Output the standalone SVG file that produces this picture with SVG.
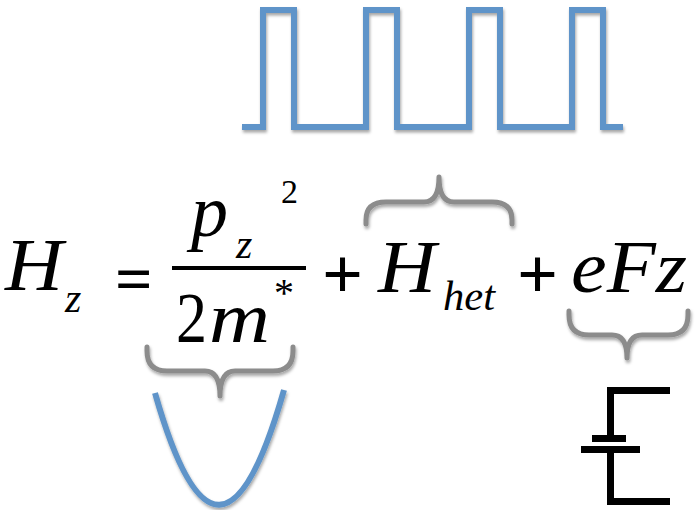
<svg xmlns="http://www.w3.org/2000/svg" width="697" height="510" viewBox="0 0 697 510">
  <defs>
    <filter id="sh" x="-10%" y="-10%" width="120%" height="130%">
      <feDropShadow dx="1" dy="2.5" stdDeviation="1.5" flood-color="#000" flood-opacity="0.35"/>
    </filter>
  </defs>
  <style>
    text { font-family: "Liberation Serif", "Times New Roman", Times, serif; fill: #000; }
    .eq { font-style: italic; }
    .up { font-style: normal; }
    .op { font-weight: bold; }
    .blue { fill: none; stroke: #5f94c9; stroke-width: 6; }
    .brace { fill: none; stroke: #8c8c8c; stroke-width: 5; stroke-linecap: round; stroke-linejoin: round; }
    .pot { fill: #000; }
  </style>

  <g id="square-wave" filter="url(#sh)">
    <path class="blue" d="M 242,127 H 263 V 10 H 294 V 127 H 366 V 10 H 397 V 127 H 469 V 10 H 500 V 127 H 572 V 10 H 603 V 127 H 623"/>
  </g>

  <g id="equation">
    <text class="eq" x="5" y="290" font-size="74" textLength="58" lengthAdjust="spacingAndGlyphs">H</text>
    <text class="eq" x="65" y="312" font-size="42">z</text>
    <text class="op" x="115" y="301" font-size="66">=</text>
    <text class="eq" x="191" y="236" font-size="74">p</text>
    <text class="eq" x="236" y="258" font-size="42">z</text>
    <text class="up" x="281" y="203" font-size="34">2</text>
    <rect x="172" y="266" width="134" height="4" fill="#000"/>
    <text class="up" x="176" y="342" font-size="72" textLength="31" lengthAdjust="spacingAndGlyphs">2</text>
    <text class="eq" x="209" y="342" font-size="72" textLength="61" lengthAdjust="spacingAndGlyphs">m</text>
    <text class="up" x="274" y="306" font-size="40">*</text>
    <text class="op" x="322" y="298" font-size="72">+</text>
    <text class="eq" x="378" y="292" font-size="74" textLength="58" lengthAdjust="spacingAndGlyphs">H</text>
    <text class="eq" x="443" y="310" font-size="42" textLength="52" lengthAdjust="spacingAndGlyphs">het</text>
    <text class="op" x="517" y="298" font-size="72">+</text>
    <text class="eq" x="571" y="292" font-size="74" textLength="116" lengthAdjust="spacingAndGlyphs">eFz</text>
  </g>

  <g id="brace-het" filter="url(#sh)">
    <path class="brace" d="M 366,224 V 220 Q 366,202 386,202 H 424 Q 439,202 439,177 Q 439,202 454,202 H 492 Q 512,202 512,220 V 224"/>
  </g>
  <g id="brace-kinetic" filter="url(#sh)">
    <path class="brace" d="M 147,347 V 351 Q 147,371 167,371 H 205 Q 220,371 220,396 Q 220,371 235,371 H 273 Q 293,371 293,351 V 347"/>
  </g>
  <g id="brace-field" filter="url(#sh)">
    <path class="brace" d="M 569,311 V 315 Q 569,335 589,335 H 612 Q 627,335 627,358 Q 627,335 642,335 H 668 Q 688,335 688,315 V 311"/>
  </g>

  <g id="parabola" filter="url(#sh)">
    <path class="blue" d="M 155,393 Q 219,618 284,390"/>
  </g>

  <g id="potential">
    <rect class="pot" x="607" y="387" width="63" height="7"/>
    <rect class="pot" x="607" y="387" width="7" height="55"/>
    <rect class="pot" x="592" y="435" width="34" height="7"/>
    <rect class="pot" x="581" y="446" width="59" height="7"/>
    <rect class="pot" x="607" y="446" width="7" height="59"/>
    <rect class="pot" x="607" y="498" width="63" height="7"/>
  </g>
</svg>
